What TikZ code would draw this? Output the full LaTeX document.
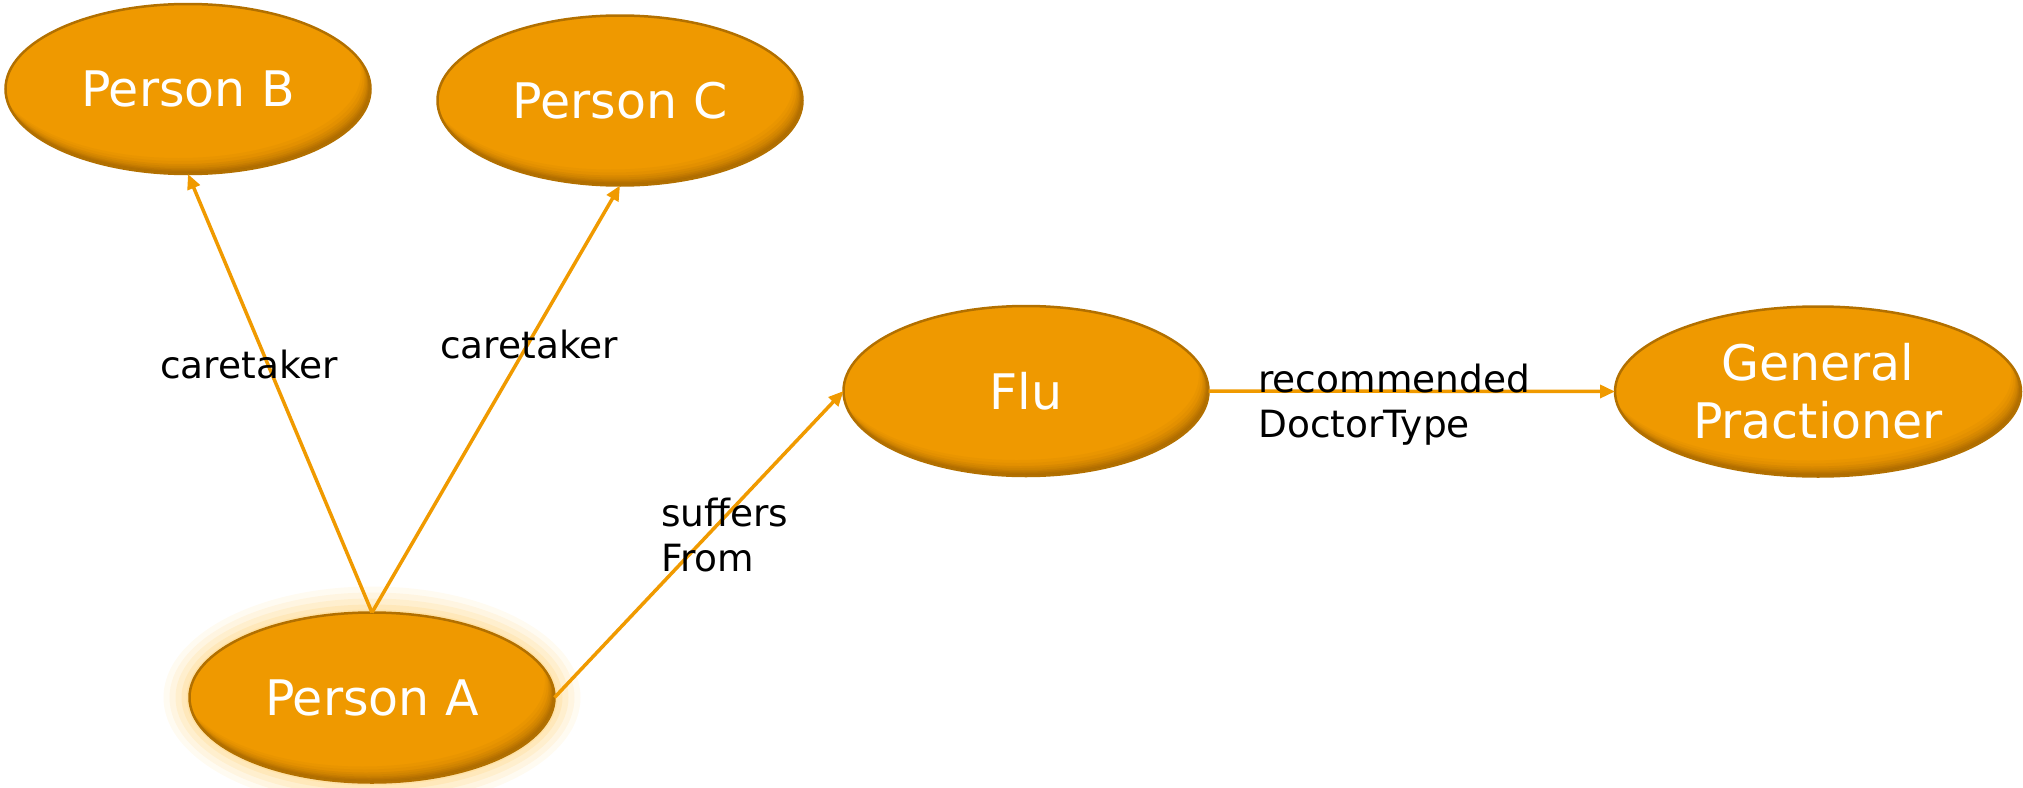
\documentclass[tikz,border=0pt]{standalone}
\usepackage{fontspec}
\setmainfont{DejaVu Sans}
\usetikzlibrary{shapes.geometric,arrows.meta,calc,backgrounds}

\definecolor{orbfill}{HTML}{EF9900}
\definecolor{orbline}{HTML}{B27000}
\definecolor{orbshade}{HTML}{6B3F00}
\definecolor{linkcol}{HTML}{F09A00}
\definecolor{glowcol}{HTML}{FFD37A}

% darker band along the lower right inside of each ellipse
\newcommand\innershade{%
  \foreach \d/\op in {1.5/0.12,3/0.11,4.5/0.10,6/0.09,8/0.08,10/0.07,13/0.05,16/0.04}{%
    \fill[orbshade, opacity=\op, even odd rule]
      let \p1=($(path picture bounding box.north east)-(path picture bounding box.center)$) in
      ([shift={(-30pt,-30pt)}]path picture bounding box.south west) rectangle
      ([shift={(30pt,30pt)}]path picture bounding box.north east)
      ([xshift=-0.6*\d pt, yshift=\d pt]path picture bounding box.center)
        ellipse [x radius=\x1, y radius=\y1];
  }%
}

\tikzset{
  orb/.style={ellipse, minimum width=365pt, minimum height=170pt, inner sep=0pt,
    outer sep=0pt, fill=orbfill, draw=orbline, line width=2.5pt, text=white,
    font=\fontsize{49}{58}\selectfont, align=center, path picture={\innershade}},
  link/.style={draw=linkcol, line width=3.5pt, -{Triangle[length=15pt,width=13pt]}},
  lbl/.style={font=\fontsize{37.5}{45}\selectfont, text=black, align=left,
    inner sep=0pt, anchor=base west},
}

\begin{document}
\begin{tikzpicture}[x=1pt, y=-1pt]
  \useasboundingbox (0,0) rectangle (2023,787);

  % concepts
  \node[orb] (pb) at (188,89) {Person B};
  \node[orb] (pc) at (620,100.5) {Person C};
  \node[orb] (flu) at (1026,391) {Flu};
  \node[orb, minimum width=406pt] (gp) at (1818,391.5) {General\\Practioner};
  \node[orb] (pa) at (372,697.5) {Person A};

  % soft halo around the selected concept
  \begin{scope}[on background layer]
    \foreach \g/\op in {26/0.10,20/0.14,14/0.18,8/0.24,3/0.3}{%
      \fill[glowcol, opacity=\op] (pa.center)
        ellipse [x radius=182.5pt+\g pt, y radius=85pt+\g pt];
    }
  \end{scope}

  % relations
  \draw[link] (pa.north) -- (pb.south);
  \draw[link] (pa.north) -- (pc.south);
  \draw[link] (pa.east) -- (flu.west);
  \draw[link] (flu.east) -- (gp.west);

  % relation names (anchored at the baseline of the last line)
  \node[lbl] (l1) at (160,378) {caretaker};
  \node[lbl] (l2) at (440,358) {caretaker};
  \node[lbl] (l3) at (661,571) {suffers\\From};
  \node[lbl] (l4) at (1258,437) {recommended\\DoctorType};
\end{tikzpicture}
\end{document}
